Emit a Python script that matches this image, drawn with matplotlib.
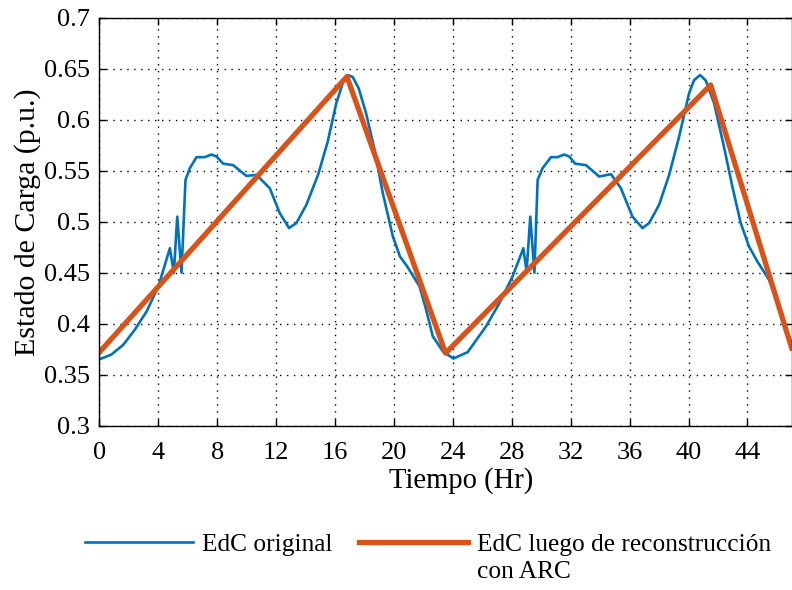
import numpy as np
import matplotlib.pyplot as plt

# EdC original (blue)
t_orig = [0.0, 0.8, 1.6, 2.4, 3.2, 4.0, 4.78, 5.05, 5.28, 5.57, 5.84, 6.14, 6.59, 7.15,
          7.6, 7.95, 8.4, 9.07, 9.98, 10.66, 11.56, 12.24, 12.87, 13.37, 14.05, 14.84,
          15.5, 16.08, 16.53, 16.87, 17.2, 17.6, 18.1, 18.68, 19.24, 19.92, 20.4, 20.9,
          21.73, 22.18, 22.63, 23.31, 24.03, 25.0, 26.25, 27.15, 28.05, 28.78, 29.0,
          29.25, 29.53, 29.75, 30.09, 30.66, 31.1, 31.56, 31.9, 32.3, 33.03, 33.93,
          34.73, 35.4, 36.19, 36.87, 37.32, 38.0, 38.68, 39.36, 40.03, 40.37, 40.78,
          41.17, 41.73, 42.4, 42.97, 43.54, 44.1, 44.67, 45.46, 46.2, 47.0]
edc_orig = [0.365, 0.3696, 0.379, 0.394, 0.412, 0.4366, 0.474, 0.4497, 0.505, 0.45,
            0.541, 0.5527, 0.5634, 0.5634, 0.566, 0.564, 0.557, 0.5556, 0.545, 0.546,
            0.533, 0.5085, 0.4938, 0.4987, 0.5167, 0.546, 0.5787, 0.6164, 0.6366, 0.644,
            0.642, 0.631, 0.6066, 0.5706, 0.528, 0.4856, 0.466, 0.456, 0.4366, 0.4137,
            0.3876, 0.3729, 0.3657, 0.372, 0.3974, 0.42, 0.4464, 0.474, 0.451, 0.505,
            0.45, 0.541, 0.5527, 0.5634, 0.5634, 0.566, 0.564, 0.557, 0.5556, 0.5444,
            0.5467, 0.533, 0.505, 0.4938, 0.4987, 0.5167, 0.546, 0.5837, 0.626, 0.639,
            0.644, 0.6386, 0.6164, 0.5738, 0.5346, 0.4987, 0.4758, 0.461, 0.4431, 0.415,
            0.378]

# EdC luego de reconstruccion con ARC (orange)
t_arc = [0.0, 16.8, 23.5, 41.5, 47.0]
edc_arc = [0.372, 0.6425, 0.371, 0.6343, 0.376]

xticks = [0, 4, 8, 12, 16, 20, 24, 28, 32, 36, 40, 44]
yticks = [0.3, 0.35, 0.4, 0.45, 0.5, 0.55, 0.6, 0.65, 0.7]
ytick_labels = ['0.3', '0.35', '0.4', '0.45', '0.5', '0.55', '0.6', '0.65', '0.7']

plt.rcParams['font.family'] = 'Liberation Serif'
plt.rcParams['font.size'] = 19

fig = plt.figure(figsize=(7.92, 5.90), dpi=100)
ax = fig.add_axes([0.1256, 0.2788, 0.874, 0.6907])

ax.plot(t_orig, edc_orig, color='#0072BD', lw=1.9, label='EdC original')
ax.plot(t_arc, edc_arc, color='#D95319', lw=3.8,
        label='EdC luego de reconstrucción')

ax.set_xlim(0, 47)
ax.set_ylim(0.3, 0.7)
ax.set_xticks(xticks)
ax.set_yticks(yticks)
ax.set_yticklabels(ytick_labels)
ax.tick_params(direction='in', top=True, right=True, length=5, width=1)
ax.tick_params(axis='x', pad=12)
ax.tick_params(axis='y', pad=7)
ax.grid(True, color='black', linestyle=(0, (1, 4)), linewidth=1)
for s in ax.spines.values():
    s.set_linewidth(1)

ax.set_xlabel('Tiempo (Hr)', fontsize=20.6)
ax.xaxis.set_label_coords(0.523, -0.103)
ax.set_ylabel('Estado de Carga (p.u.)', fontsize=21.5, labelpad=2)

leg = fig.legend(loc='upper left', bbox_to_anchor=(0.107, 0.0966), ncol=2, frameon=False,
                 fontsize=18.3, handlelength=4.27, handletextpad=0.35, columnspacing=1.06,
                 borderpad=0, borderaxespad=0)

# second line of the orange label, under the legend text
fig.canvas.draw()
bb = leg.get_texts()[1].get_window_extent().transformed(fig.transFigure.inverted())
fig.text(bb.x0, bb.y0 - 0.008, 'con ARC', fontsize=18.3, ha='left', va='top')

plt.savefig('out.png', dpi=100)
